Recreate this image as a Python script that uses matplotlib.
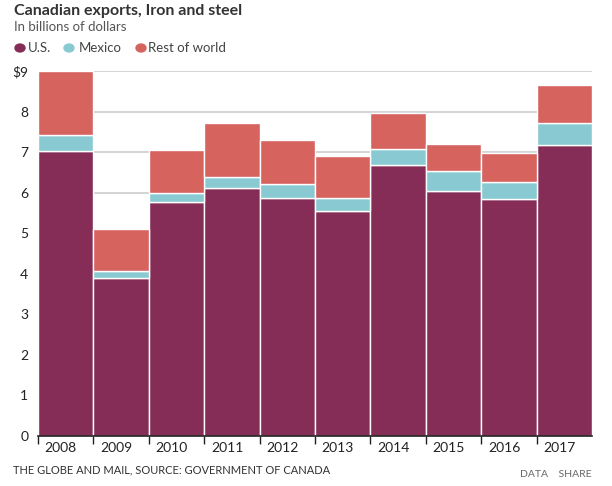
import matplotlib
matplotlib.use("Agg")
import matplotlib.pyplot as plt

plt.rcParams['font.family'] = ['Lato', 'DejaVu Sans']

years = [2008, 2009, 2010, 2011, 2012, 2013, 2014, 2015, 2016, 2017]
us = [7.03, 3.90, 5.77, 6.11, 5.86, 5.54, 6.67, 6.04, 5.84, 7.18]
mexico = [0.38, 0.16, 0.23, 0.27, 0.35, 0.34, 0.41, 0.49, 0.43, 0.55]
rest = [1.59, 1.04, 1.04, 1.33, 1.08, 1.03, 0.88, 0.66, 0.72, 0.92]
yticks = [0, 1, 2, 3, 4, 5, 6, 7, 8, 9]
ytick_labels = ['0', '1', '2', '3', '4', '5', '6', '7', '8', '$9']

c_us = '#852d56'
c_mex = '#89cad2'
c_rest = '#d7635f'

W, H = 612, 486
fig = plt.figure(figsize=(W / 100, H / 100), dpi=100)
ax = fig.add_axes([38 / W, 50 / H, (592 - 38) / W, (436 - 71) / H])

x = list(range(len(years)))
ax.bar(x, us, width=1, align='edge', color=c_us, edgecolor='white', linewidth=1, zorder=2)
bottom2 = [a for a in us]
ax.bar(x, mexico, width=1, align='edge', bottom=bottom2, color=c_mex,
       edgecolor='white', linewidth=1, zorder=2)
bottom3 = [a + b for a, b in zip(us, mexico)]
ax.bar(x, rest, width=1, align='edge', bottom=bottom3, color=c_rest,
       edgecolor='white', linewidth=1, zorder=2)

ax.set_xlim(0, len(years))
ax.set_ylim(0, 9)
ax.set_yticks(yticks)
ax.set_yticklabels(ytick_labels)
ax.grid(axis='y', color='#cccccc', linewidth=1.2, zorder=0)
ax.set_axisbelow(True)
ax.tick_params(axis='y', length=0, pad=7, labelsize=10, labelcolor='#222222')
ax.set_xticks(x)
ax.set_xticklabels([])
ax.tick_params(axis='x', length=6, width=1, color='#222222', direction='out')
for s in ['top', 'right', 'left']:
    ax.spines[s].set_visible(False)
ax.spines['bottom'].set_color('#222222')
ax.spines['bottom'].set_linewidth(1.2)
ax.spines['bottom'].set_zorder(3)

for i, yr in enumerate(years):
    ax.text(i + 0.12, -0.3, str(yr), ha='left', va='center', fontsize=10,
            color='#222222')

fig.text(14 / W, 1 - 11 / H, 'Canadian exports, Iron and steel', fontsize=11.5,
         fontweight='bold', color='#333333', va='center', ha='left')
fig.text(14 / W, 1 - 27 / H, 'In billions of dollars', fontsize=9.5,
         color='#555555', va='center', ha='left')

# legend: (label, colour, circle centre px, text start px)
legend_items = [('U.S.', c_us, 20, 28), ('Mexico', c_mex, 69, 79),
                ('Rest of world', c_rest, 141, 148)]
for name, col, cx, tx in legend_items:
    fig.patches.append(plt.Circle((cx / W, 1 - 48 / H), 5 / W, color=col,
                                  transform=fig.transFigure, figure=fig))
    fig.text(tx / W, 1 - 48 / H, name, fontsize=9.5, color='#444444',
             va='center', ha='left')

fig.text(13 / W, 1 - 470 / H, 'THE GLOBE AND MAIL, SOURCE: GOVERNMENT OF CANADA',
         fontsize=8, color='#333333', va='center', ha='left')
fig.text(592 / W, 1 - 474 / H, 'DATA    SHARE', fontsize=7.5, color='#666666',
         va='center', ha='right')

fig.savefig('out.png', dpi=100)
